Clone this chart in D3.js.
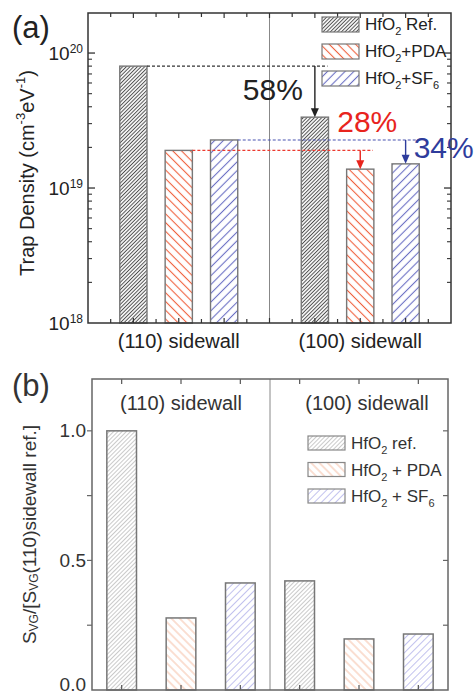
<!DOCTYPE html>
<html>
<head>
<meta charset="utf-8">
<script src="https://cdn.jsdelivr.net/npm/d3@7"></script>
<style>
  body { margin: 0; background: #fff; }
  svg { display: block; font-family: "Liberation Sans", Arial, sans-serif; }
</style>
</head>
<body>
<div id="chart"></div>
<script>
// data
const groups = ["(110) sidewall", "(100) sidewall"];
const seriesKeys = ["ref", "pda", "sf6"];

// (a) trap density, cm^-3 eV^-1
const trapRef = [8.0e19, 3.35e19];
const trapPDA = [1.9e19, 1.38e19];
const trapSF6 = [2.27e19, 1.51e19];
const reductions = ["58%", "28%", "34%"];

// (b) S_VG normalised to (110) sidewall ref.
const ratioRef = [1.0, 0.421];
const ratioPDA = [0.278, 0.197];
const ratioSF6 = [0.413, 0.216];

const legendA = [
  [["HfO"], ["2", "sub"], [" Ref."]],
  [["HfO"], ["2", "sub"], ["+PDA"]],
  [["HfO"], ["2", "sub"], ["+SF"], ["6", "sub"]],
];
const legendB = [
  [["HfO"], ["2", "sub"], [" ref."]],
  [["HfO"], ["2", "sub"], [" + PDA"]],
  [["HfO"], ["2", "sub"], [" + SF"], ["6", "sub"]],
];
const logMajor = [1e18, 1e19, 1e20];
const ratioTicks = [0, 0.25, 0.5, 0.75, 1.0];

const width = 474, height = 696;
const svg = d3.select("#chart").append("svg")
  .attr("width", width).attr("height", height);

// hatch patterns
const defs = svg.append("defs");
function hatch(id, color, spacing, angle, sw) {
  defs.append("pattern")
    .attr("id", id)
    .attr("patternUnits", "userSpaceOnUse")
    .attr("width", spacing).attr("height", spacing)
    .attr("patternTransform", `rotate(${angle})`)
    .call((p) => p.append("rect").attr("width", spacing).attr("height", spacing).attr("fill", "#fff"))
    .append("line")
    .attr("x1", spacing / 2).attr("x2", spacing / 2)
    .attr("y1", 0).attr("y2", spacing)
    .attr("stroke", color).attr("stroke-width", sw);
}
hatch("a-ref", "#4d4d4d", 2.6, 45, 1);
hatch("a-pda", "#f0603c", 6.2, -45, 1.1);
hatch("a-sf6", "#6b6fc4", 6.2, 45, 1.1);
hatch("b-ref", "#c4c4c4", 3, 45, 0.9);
hatch("b-pda", "#f7c0a6", 5.8, -45, 1);
hatch("b-sf6", "#c2c2ee", 5, 45, 1);

// text with sub/superscript pieces; the shift is undone on the next piece
function richText(sel, parts, small) {
  let back = 0;
  parts.forEach(([t, kind]) => {
    const dy = kind === "sub" ? 5 : kind === "sup" ? -7 : 0;
    const ts = sel.append("tspan").text(t);
    if (back + dy !== 0) ts.attr("dy", back + dy);
    if (kind) ts.attr("font-size", small);
    back = -dy;
  });
}

// ---------- panel (a) ----------
const A = { left: 88, top: 13, right: 451, bottom: 323 };
const xA = d3.scaleLinear().domain([0, 8]).range([A.left, A.right]);
const yA = d3.scaleLog().domain([1e18, 1.98e20]).range([A.bottom, A.top]);
const barWA = xA(0.6) - xA(0);
const posA = (g, s) => 1 + s + 4 * g;
const valuesA = [trapRef, trapPDA, trapSF6];

const gA = svg.append("g");

gA.append("line")
  .attr("x1", xA(4)).attr("x2", xA(4))
  .attr("y1", A.top).attr("y2", A.bottom)
  .attr("stroke", "#888").attr("stroke-width", 1);

const barsA = [];
groups.forEach((_, g) => seriesKeys.forEach((k, s) =>
  barsA.push({ g, s, k, v: valuesA[s][g] })));

gA.selectAll("rect.bar")
  .data(barsA)
  .join("rect")
  .attr("class", "bar")
  .attr("x", (d) => xA(posA(d.g, d.s)) - barWA / 2)
  .attr("width", barWA)
  .attr("y", (d) => yA(d.v))
  .attr("height", (d) => A.bottom - yA(d.v))
  .attr("fill", (d) => `url(#a-${d.k})`)
  .attr("stroke", "#777").attr("stroke-width", 1.4);

// ticks
const minorA = [];
[1e18, 1e19].forEach((b) => d3.range(2, 10).forEach((m) => minorA.push(b * m)));
minorA.push(2e20);
function yTicksA(x, dir) {
  gA.selectAll(null).data(logMajor.slice(1)).join("line")
    .attr("x1", x).attr("x2", x + dir * 7)
    .attr("y1", (d) => yA(d)).attr("y2", (d) => yA(d))
    .attr("stroke", "#333").attr("stroke-width", 1.3);
  gA.selectAll(null).data(minorA.filter((d) => d <= yA.domain()[1])).join("line")
    .attr("x1", x).attr("x2", x + dir * 4)
    .attr("y1", (d) => yA(d)).attr("y2", (d) => yA(d))
    .attr("stroke", "#333").attr("stroke-width", 1.1);
}
yTicksA(A.left, 1);
yTicksA(A.right, -1);
const xtA = d3.range(0.5, 8, 0.5);
[[A.top, 1], [A.bottom, -1]].forEach(([y, dir]) => {
  gA.selectAll(null).data(xtA).join("line")
    .attr("x1", (d) => xA(d)).attr("x2", (d) => xA(d))
    .attr("y1", y).attr("y2", (d) => y + dir * (d % 1 === 0 ? 5 : 4))
    .attr("stroke", "#333").attr("stroke-width", 1.2);
});

gA.append("rect")
  .attr("x", A.left).attr("y", A.top)
  .attr("width", A.right - A.left).attr("height", A.bottom - A.top)
  .attr("fill", "none").attr("stroke", "#333").attr("stroke-width", 1.5);

// y tick labels 10^n
gA.selectAll("text.ylab").data(logMajor).join("text")
  .attr("class", "ylab")
  .attr("x", A.left - 5)
  .attr("y", (d) => yA(d) + 7)
  .attr("text-anchor", "end")
  .attr("font-size", 19).attr("fill", "#222")
  .each(function (d) {
    richText(d3.select(this), [["10"], [String(Math.round(Math.log10(d))), "sup"]], 12);
  });

gA.append("text")
  .attr("transform", `translate(27,${(A.top + A.bottom) / 2 + 5}) rotate(-90)`)
  .attr("text-anchor", "middle").attr("dominant-baseline", "central")
  .attr("font-size", 20).attr("fill", "#222")
  .call((t) => richText(t, [["Trap Density (cm"], ["-3", "sup"], ["eV"], ["-1", "sup"], [")"]], 13));

gA.selectAll("text.cat").data(groups).join("text")
  .attr("class", "cat")
  .attr("x", (_, g) => xA(posA(g, 1)))
  .attr("y", A.bottom + 25)
  .attr("text-anchor", "middle")
  .attr("font-size", 20).attr("fill", "#222")
  .text((d) => d);

gA.append("text").attr("x", 12).attr("y", 38)
  .attr("font-size", 31).attr("fill", "#222").text("(a)");

// legend (a)
legendA.forEach((parts, i) => {
  const y = 17 + i * 27;
  gA.append("rect").attr("x", 322).attr("y", y).attr("width", 37).attr("height", 15)
    .attr("fill", `url(#a-${seriesKeys[i]})`).attr("stroke", "#777").attr("stroke-width", 1.2);
  gA.append("text").attr("x", 365).attr("y", y + 13)
    .attr("font-size", 17).attr("fill", "#222")
    .call((t) => richText(t, parts, 11));
});

// reduction annotations
const annColors = ["#222", "#e8241d", "#2e3c9c"];
const dashColors = ["#333", "#ec3b30", "#4953b0"];
seriesKeys.forEach((k, s) => {
  const v0 = valuesA[s][0], v1 = valuesA[s][1];
  const y0 = yA(v0), y1 = yA(v1);
  const xs = xA(posA(0, s)) + barWA / 2;
  const xt = xA(posA(1, s));
  gA.append("line")
    .attr("x1", xs).attr("x2", xt + barWA / 2 - 1)
    .attr("y1", y0).attr("y2", y0)
    .attr("stroke", dashColors[s]).attr("stroke-width", 1.1)
    .attr("stroke-dasharray", "3,2");
  gA.append("line")
    .attr("x1", xt).attr("x2", xt).attr("y1", y0).attr("y2", y1 - 7)
    .attr("stroke", annColors[s]).attr("stroke-width", 1.4);
  gA.append("path")
    .attr("d", `M${xt - 4},${y1 - 9}L${xt + 4},${y1 - 9}L${xt},${y1}Z`)
    .attr("fill", annColors[s]);
  const txt = gA.append("text")
    .attr("font-size", 30).attr("fill", annColors[s])
    .attr("dominant-baseline", "central")
    .text(reductions[s]);
  if (s === 0) txt.attr("x", xt - 12).attr("y", (y0 + y1) / 2 - 2).attr("text-anchor", "end");
  if (s === 1) txt.attr("x", xt + 7).attr("y", y0 - 29).attr("text-anchor", "middle");
  if (s === 2) txt.attr("x", xt + 8).attr("y", y0 + 8).attr("text-anchor", "start");
});

// ---------- panel (b) ----------
const B = { left: 92, top: 379, right: 448, bottom: 690 };
const xB = d3.scaleLinear().domain([0.5, 6.5]).range([B.left, B.right]);
const yB = d3.scaleLinear().domain([0, 1.2]).range([B.bottom, B.top]);
const barWB = xB(1) - xB(0.5);
const posB = (g, s) => 1 + s + 3 * g;
const valuesB = [ratioRef, ratioPDA, ratioSF6];

const gB = svg.append("g");

gB.append("line")
  .attr("x1", xB(3.5)).attr("x2", xB(3.5))
  .attr("y1", B.top).attr("y2", B.bottom)
  .attr("stroke", "#888").attr("stroke-width", 1);

const barsB = [];
groups.forEach((_, g) => seriesKeys.forEach((k, s) =>
  barsB.push({ g, s, k, v: valuesB[s][g] })));

gB.selectAll("rect.bar")
  .data(barsB)
  .join("rect")
  .attr("class", "bar")
  .attr("x", (d) => xB(posB(d.g, d.s)) - barWB / 2)
  .attr("width", barWB)
  .attr("y", (d) => yB(d.v))
  .attr("height", (d) => B.bottom - yB(d.v))
  .attr("fill", (d) => `url(#b-${d.k})`)
  .attr("stroke", "#777").attr("stroke-width", 1.5);

gB.selectAll(null).data(ratioTicks.slice(1)).join("line")
  .attr("x1", B.left).attr("x2", B.left - 5)
  .attr("y1", (d) => yB(d)).attr("y2", (d) => yB(d))
  .attr("stroke", "#666").attr("stroke-width", 1.2);
gB.selectAll(null).data(ratioTicks.slice(1)).join("line")
  .attr("x1", B.right).attr("x2", B.right - 5)
  .attr("y1", (d) => yB(d)).attr("y2", (d) => yB(d))
  .attr("stroke", "#666").attr("stroke-width", 1.2);
const xtB = d3.range(1, 7);
[[B.top, 1], [B.bottom, -1]].forEach(([y, dir]) => {
  gB.selectAll(null).data(xtB).join("line")
    .attr("x1", (d) => xB(d)).attr("x2", (d) => xB(d))
    .attr("y1", y).attr("y2", y + dir * 5)
    .attr("stroke", "#555").attr("stroke-width", 1.2);
});

gB.append("rect")
  .attr("x", B.left).attr("y", B.top)
  .attr("width", B.right - B.left).attr("height", B.bottom - B.top)
  .attr("fill", "none").attr("stroke", "#666").attr("stroke-width", 1.5);

gB.selectAll("text.ylab").data([0, 0.5, 1.0]).join("text")
  .attr("class", "ylab")
  .attr("x", B.left - 6)
  .attr("y", (d) => Math.min(yB(d), B.bottom - 6))
  .attr("dominant-baseline", "central")
  .attr("text-anchor", "end")
  .attr("font-size", 19).attr("fill", "#333")
  .text(d3.format(".1f"));

gB.append("text")
  .attr("transform", `translate(29,${(B.top + B.bottom) / 2}) rotate(-90)`)
  .attr("text-anchor", "middle").attr("dominant-baseline", "central")
  .attr("font-size", 19).attr("fill", "#333")
  .call((t) => richText(t, [["S"], ["VG", "sub"], ["/[S"], ["VG", "sub"], ["(110)sidewall ref.]"]], 12));

gB.selectAll("text.cat").data(groups).join("text")
  .attr("class", "cat")
  .attr("x", (_, g) => xB(posB(g, 1)) + g * 8)
  .attr("y", B.top + 31)
  .attr("text-anchor", "middle")
  .attr("font-size", 20).attr("fill", "#333")
  .text((d) => d);

gB.append("text").attr("x", 12).attr("y", 396)
  .attr("font-size", 31).attr("fill", "#333").text("(b)");

legendB.forEach((parts, i) => {
  const y = 436 + i * 26.5;
  gB.append("rect").attr("x", 308).attr("y", y).attr("width", 37).attr("height", 14)
    .attr("fill", `url(#b-${seriesKeys[i]})`).attr("stroke", "#888").attr("stroke-width", 1.2);
  gB.append("text").attr("x", 351).attr("y", y + 13)
    .attr("font-size", 17).attr("fill", "#333")
    .call((t) => richText(t, parts, 11));
});
</script>
</body>
</html>
